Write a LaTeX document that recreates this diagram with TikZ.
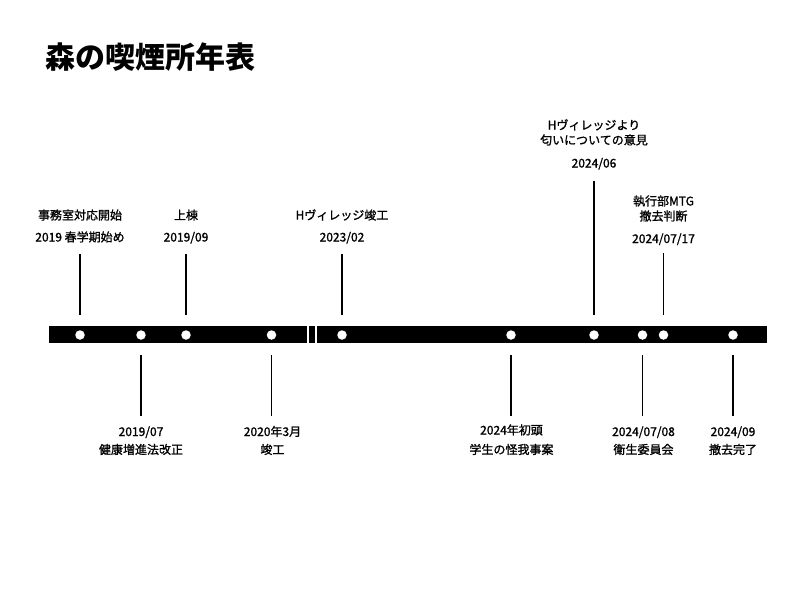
\documentclass[tikz,border=0pt]{standalone}
\usepackage{fontspec}
\setmainfont{Noto Sans CJK JP}
\newfontfamily\eventfont{Noto Sans CJK JP}[FakeBold=1.2]
\begin{document}
\begin{tikzpicture}[
    x=1pt, y=-1pt,
    % Timeline bar style
    bar/.style={fill=black},
    % White break marks across the bar
    bar break/.style={draw=white, line width=1.8pt},
    % Event dot style
    event dot/.style={
        circle, fill=white, draw=none,
        inner sep=0pt, minimum size=9.5pt
    },
    % Stem from bar to label
    stem/.style={line width=1.3pt, shorten <=15pt},
    % Event text style
    event text/.style={
        font=\eventfont\fontsize{12}{15}\selectfont,
        anchor=base, inner sep=0pt
    },
    % Title style
    title text/.style={
        font=\bfseries\fontsize{30}{36}\selectfont,
        anchor=base west, inner sep=0pt
    }
]
\useasboundingbox (0,0) rectangle (800,600);

% --- Title ---
\node[title text] (title) at (45,68) {森の喫煙所年表};

% --- Bar with break ---
\fill[bar] (49,326) rectangle (767,343);
\draw[bar break] (308.3,326) -- (308.3,343);
\draw[bar break] (316,326) -- (316,343);

% --- Event dots ---
\node[event dot] (office) at (80,335) {};
\node[event dot] (law) at (141,335) {};
\node[event dot] (roof) at (186,335) {};
\node[event dot] (built) at (271.5,335) {};
\node[event dot] (village) at (342,335) {};
\node[event dot] (injury) at (511,335) {};
\node[event dot] (smell) at (594,335) {};
\node[event dot] (committee) at (642.5,335) {};
\node[event dot] (meeting) at (663.5,335) {};
\node[event dot] (removed) at (733,335) {};

% --- Stem ends ---
\coordinate (office top) at (80,254);
\coordinate (roof top) at (186,254);
\coordinate (village top) at (342,254);
\coordinate (smell top) at (594,181);
\coordinate (meeting top) at (663.5,253);
\coordinate (law end) at (141,416);
\coordinate (built end) at (271.5,416);
\coordinate (injury end) at (511,416);
\coordinate (committee end) at (642.5,416);
\coordinate (removed end) at (733,416);

% --- Stems ---
\draw[stem] (office) -- (office top);
\draw[stem] (roof) -- (roof top);
\draw[stem] (village) -- (village top);
\draw[stem] (smell) -- (smell top);
\draw[stem] (meeting) -- (meeting top);
\draw[stem] (law) -- (law end);
\draw[stem] (built) -- (built end);
\draw[stem] (injury) -- (injury end);
\draw[stem] (committee) -- (committee end);
\draw[stem] (removed) -- (removed end);

% --- Labels above the bar ---
\node[event text] (office note) at (80,219.6) {事務室対応開始};
\node[event text] (office date) at (80,241.5) {2019 春学期始め};
\node[event text] (roof note) at (186,219.6) {上棟};
\node[event text] (roof date) at (186,241.5) {2019/09};
\node[event text] (village note) at (342,219.6) {Hヴィレッジ竣工};
\node[event text] (village date) at (342,241.5) {2023/02};
\node[event text] (smell note a) at (594,129.5) {Hヴィレッジより};
\node[event text] (smell note b) at (594,144.5) {匂いについての意見};
\node[event text] (smell date) at (594,167.5) {2024/06};
\node[event text] (meeting note a) at (663.5,205.5) {執行部MTG};
\node[event text] (meeting note b) at (663.5,220.5) {撤去判断};
\node[event text] (meeting date) at (663.5,243) {2024/07/17};

% --- Labels below the bar ---
\node[event text] (law date) at (141,436) {2019/07};
\node[event text] (law note) at (141,454) {健康増進法改正};
\node[event text] (built date) at (272.5,436) {2020年3月};
\node[event text] (built note) at (272.5,454) {竣工};
\node[event text] (injury date) at (511.5,434.5) {2024年初頭};
\node[event text] (injury note) at (511.5,454) {学生の怪我事案};
\node[event text] (committee date) at (643.5,436) {2024/07/08};
\node[event text] (committee note) at (643.5,454) {衛生委員会};
\node[event text] (removed date) at (733,436) {2024/09};
\node[event text] (removed note) at (733,454) {撤去完了};

\end{tikzpicture}
\end{document}
